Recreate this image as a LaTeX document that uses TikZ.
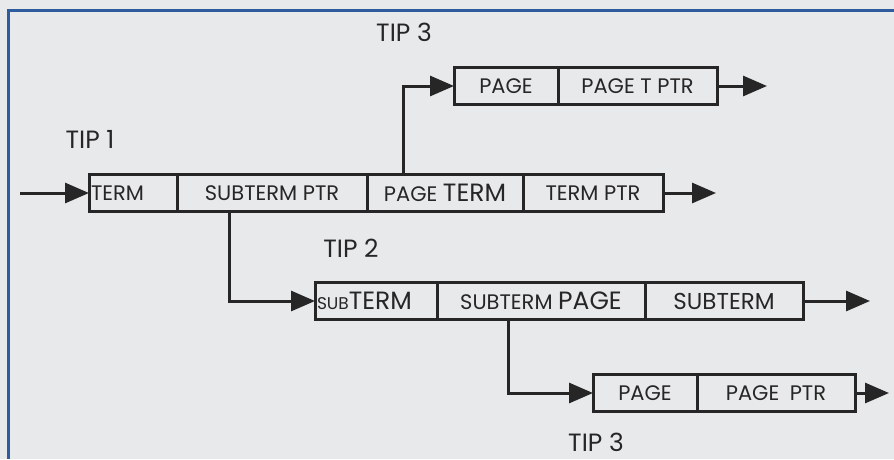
\documentclass[tikz,border=0pt]{standalone}
\usepackage{fontspec}
\setmainfont{Poppins}
\usetikzlibrary{arrows.meta,positioning}
\definecolor{paper}{HTML}{E8E9EB}
\definecolor{ink}{HTML}{262626}
\definecolor{frameblue}{HTML}{2E5C9C}
\newdimen\px \px=1pt
\newcommand{\smallpart}{\fontsize{17}{20}\selectfont}
\newcommand{\bigpart}{\fontsize{25}{28}\selectfont}
\tikzset{
    every picture/.style={line join=miter},
    cell/.style={draw=ink,line width=3pt,minimum height=37\px,inner sep=2pt,
      outer sep=0pt,text=ink,font=\fontsize{21}{24}\selectfont},
    lcell/.style={cell,text width=#1\px,align=left,inner xsep=2\px},
    tiplabel/.style={text=ink,font=\fontsize{25}{28}\selectfont},
    link/.style={-{Triangle[length=24pt,width=20pt]},draw=ink,line width=3pt}
}
\begin{document}
\begin{tikzpicture}[x=1pt,y=-1pt]
  \path[use as bounding box,fill=paper] (0,0) rectangle (894,459);
  \draw[frameblue,line width=3pt] (894,10) -- (8,10) -- (8,459);
  \node[lcell=84,anchor=west] (t1a) at (89,193) {TERM};
  \node[cell,minimum width=190\px,right=0pt of t1a] (t1b) {SUBTERM PTR};
  \node[cell,minimum width=156\px,right=0pt of t1b] (t1c) {PAGE {\bigpart TERM}};
  \node[cell,minimum width=140\px,right=0pt of t1c] (t1d) {TERM PTR};
  \node[cell,minimum width=104\px,anchor=west] (t3a) at (454,86) {PAGE};
  \node[cell,minimum width=159\px,right=0pt of t3a] (t3b) {PAGE T PTR};
  \node[lcell=118,anchor=west] (t2a) at (315,301) {{\smallpart SUB}{\bigpart TERM}};
  \node[cell,minimum width=208\px,right=0pt of t2a] (t2b) {SUBTERM {\bigpart PAGE}};
  \node[cell,minimum width=158\px,right=0pt of t2b] (t2c) {{\fontsize{23}{26}\selectfont SUBTERM}};
  \node[cell,minimum width=104\px,anchor=west] (t4a) at (593,393) {PAGE};
  \node[cell,minimum width=158\px,right=0pt of t4a] (t4b) {PAGE\enspace PTR};
  \node[tiplabel] (tip1) at (90,139) {TIP 1};
  \node[tiplabel] (tip3a) at (404,32) {TIP 3};
  \node[tiplabel] (tip2) at (351,248) {TIP 2};
  \node[tiplabel] (tip3b) at (596,442) {TIP 3};
  \coordinate (in1) at (20,193);
  \coordinate (out1) at (716,193);
  \coordinate (out3) at (767,86);
  \coordinate (out2) at (870,301);
  \coordinate (out4) at (889,393);
  \draw[link] (in1) -- (t1a.west);
  \draw[link] (t1d.east) -- (out1);
  \draw[link] (t3b.east) -- (out3);
  \draw[link] (t2c.east) -- (out2);
  \draw[link] (t4b.east) -- (out4);
  \draw[link] ([xshift=36\px]t1c.north west) |- (t3a.west);
  \draw[link] ([xshift=52\px]t1b.south west) |- (t2a.west);
  \draw[link] ([xshift=71\px]t2b.south west) |- (t4a.west);
\end{tikzpicture}
\end{document}
